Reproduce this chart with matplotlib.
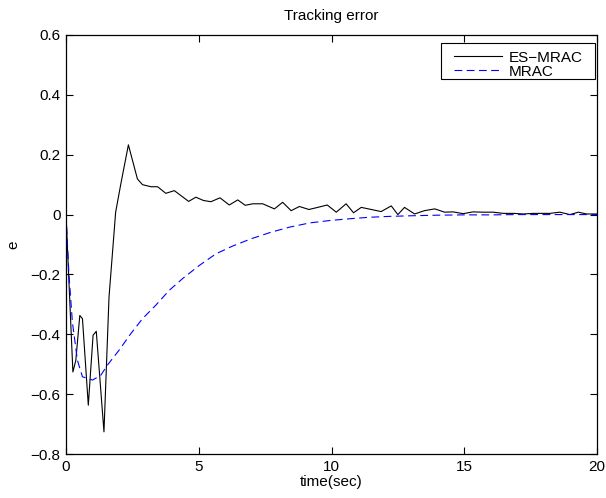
import matplotlib
matplotlib.use("Agg")
import matplotlib.pyplot as plt
from matplotlib.patches import Rectangle

t_es = [0.0, 0.26, 0.37, 0.52, 0.62, 0.84, 1.02, 1.14, 1.43, 1.62, 1.87, 2.06, 2.35, 2.69, 2.88,
        3.2, 3.45, 3.76, 4.08, 4.62, 4.89, 5.18, 5.46, 5.80, 6.15, 6.47, 6.75, 7.03, 7.41, 7.85,
        8.16, 8.48, 8.79, 9.15, 9.48, 9.84, 10.18, 10.55, 10.83, 11.12, 11.5, 11.87, 12.25, 12.5,
        12.75, 13.13, 13.5, 13.89, 14.26, 14.58, 14.96, 15.33, 15.71, 16.09, 16.47, 16.85, 17.23,
        17.6, 18.23, 18.6, 18.98, 19.3, 19.6, 20.0]
e_es = [0.0, -0.526, -0.487, -0.337, -0.348, -0.637, -0.403, -0.39, -0.726, -0.276, 0.008, 0.10,
        0.233, 0.119, 0.10, 0.093, 0.093, 0.071, 0.08, 0.044, 0.058, 0.047, 0.043, 0.056, 0.032,
        0.049, 0.031, 0.036, 0.036, 0.019, 0.041, 0.013, 0.027, 0.017, 0.024, 0.032, 0.008, 0.036,
        0.006, 0.024, 0.017, 0.010, 0.029, 0.0, 0.024, 0.002, 0.013, 0.019, 0.008, 0.009, 0.003,
        0.009, 0.008, 0.008, 0.004, 0.004, 0.002, 0.004, 0.004, 0.008, 0.0, 0.008, 0.002, 0.002]

t_mr = [0.0, 0.11, 0.24, 0.43, 0.62, 1.0, 1.31, 1.56, 2.0, 2.44, 2.88, 3.38, 3.89, 4.39, 5.02,
        5.65, 6.28, 6.97, 7.72, 8.42, 9.17, 9.92, 10.68, 11.43, 12.19, 13.0, 14.0, 15.0, 16.0,
        17.0, 18.0, 19.0, 20.0]
e_mr = [0.0, -0.198, -0.359, -0.487, -0.542, -0.553, -0.537, -0.503, -0.453, -0.398, -0.348,
        -0.303, -0.253, -0.214, -0.170, -0.131, -0.105, -0.081, -0.059, -0.042, -0.028, -0.020,
        -0.014, -0.009, -0.006, -0.004, -0.002, -0.001, -0.001, 0.0, 0.0, 0.0, 0.0]

x_ticks = [0, 5, 10, 15, 20]
y_ticks = [-0.8, -0.6, -0.4, -0.2, 0, 0.2, 0.4, 0.6]
y_tick_labels = ['\u22120.8', '\u22120.6', '\u22120.4', '\u22120.2', '0', '0.2', '0.4', '0.6']

plt.rcParams['font.family'] = ['Liberation Sans', 'DejaVu Sans']
FS = 11

fig = plt.figure(figsize=(6.06, 4.98), dpi=100)
ax = fig.add_axes([66/606, 44/498, 531/606, 419/498])
ax.plot(t_es, e_es, color='black', lw=0.8, label='ES\u2212MRAC')
ax.plot(t_mr, e_mr, color='blue', lw=0.8, ls=(0, (7, 4)), label='MRAC')
ax.set_xlim(0, 20)
ax.set_ylim(-0.8, 0.6)
ax.set_xticks(x_ticks)
ax.set_yticks(y_ticks)
ax.set_yticklabels(y_tick_labels)
ax.tick_params(direction='in', top=True, right=True, length=5, width=0.8, labelsize=FS, pad=4)
for s in ax.spines.values():
    s.set_linewidth(0.9)
ax.set_title('Tracking error', fontsize=FS, pad=11)
ax.set_xlabel('time(sec)', fontsize=FS, labelpad=1)
ax.set_ylabel('e', fontsize=FS, labelpad=7)

# legend box (frame drawn separately, MATLAB style)
box = Rectangle(((441 - 66) / 531, (454 - 79) / 419), 154 / 531, 36 / 419,
                transform=ax.transAxes, facecolor='white', edgecolor='black',
                linewidth=0.8, zorder=4)
ax.add_patch(box)
leg = ax.legend(loc='center', bbox_to_anchor=((518.5 - 66) / 531, (454 - 64.5) / 419),
                borderaxespad=0, fontsize=FS, frameon=False,
                handlelength=3.1, handletextpad=0.45, borderpad=0.0, labelspacing=0.0)
leg.set_zorder(5)
fig.savefig('out.png', dpi=100)
